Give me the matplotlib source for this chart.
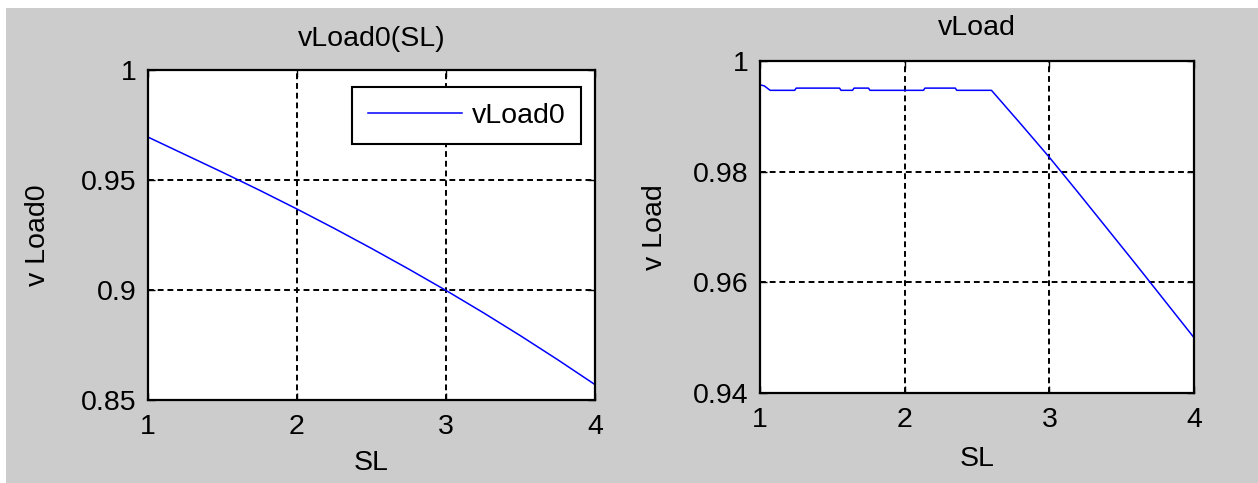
import matplotlib
matplotlib.use("Agg")
import matplotlib.pyplot as plt
from matplotlib.patches import Rectangle

# left plot: vLoad0 vs SL
sl0 = [1.0, 1.25, 1.5, 1.75, 2.0, 2.25, 2.5, 2.75, 3.0, 3.25, 3.5, 3.75, 4.0]
vload0 = [0.9695, 0.9615, 0.9535, 0.9453, 0.9368, 0.9280, 0.9189, 0.9095,
          0.8998, 0.8897, 0.8792, 0.8683, 0.857]

# right plot: vLoad vs SL (flat with small steps, then falling)
sl = [1.0, 1.03, 1.07, 1.24, 1.25, 1.55, 1.56, 1.64, 1.65, 1.75, 1.76,
      2.13, 2.14, 2.35, 2.36, 2.6, 2.8, 3.0, 3.2, 3.4, 3.6, 3.8, 4.0]
vload = [0.9957, 0.9955, 0.9947, 0.9947, 0.9951, 0.9951, 0.9947, 0.9947,
         0.9951, 0.9951, 0.9947, 0.9947, 0.9951, 0.9951, 0.9947, 0.9947,
         0.9887, 0.9826, 0.9762, 0.9697, 0.9632, 0.9566, 0.9500]

xticks = [1, 2, 3, 4]
yticks0 = [0.85, 0.9, 0.95, 1.0]
yticklabels0 = ["0.85", "0.9", "0.95", "1"]
yticks1 = [0.94, 0.96, 0.98, 1.0]
yticklabels1 = ["0.94", "0.96", "0.98", "1"]

plt.rcParams['font.family'] = ['Liberation Sans', 'DejaVu Sans']
FS = 20.5
W, H = 1258, 483

fig = plt.figure(figsize=(W / 100, H / 100), dpi=100, facecolor='white')
# grey window background with a thin white strip at top and left
fig.add_artist(Rectangle((6 / W, 0), 1, (H - 8) / H, transform=fig.transFigure,
                         facecolor='#cccccc', edgecolor='none', zorder=-10))


def style_axes(ax, yticks, ylabels, ylim):
    ax.set_facecolor('white')
    ax.set_xlim(1, 4)
    ax.set_ylim(*ylim)
    ax.set_xticks(xticks)
    ax.set_xticklabels([str(t) for t in xticks])
    ax.set_yticks(yticks)
    ax.set_yticklabels(ylabels)
    ax.tick_params(direction='in', length=5, width=1, labelsize=FS, pad=8,
                   top=True, right=True)
    ax.tick_params(axis='x', pad=10)
    for s in ax.spines.values():
        s.set_linewidth(1.6)
        s.set_color('black')
    ax.grid(True, color='black', linestyle=(0, (3, 2)), linewidth=1.4)
    ax.set_axisbelow(True)


ax1 = fig.add_axes([148 / W, (H - 400) / H, 447 / W, 330 / H])
style_axes(ax1, yticks0, yticklabels0, (0.85, 1.0))
ax1.plot(sl0, vload0, color='#0000ff', linewidth=1.1, label='vLoad0')
ax1.set_title('vLoad0(SL)', fontsize=FS, pad=17)
ax1.set_xlabel('SL', fontsize=FS)
ax1.set_ylabel('v Load0', fontsize=FS)
ax1.xaxis.set_label_coords(0.5, -0.15)
ax1.yaxis.set_label_coords(-0.218, 0.5)
leg = ax1.legend(loc='upper right', bbox_to_anchor=(0.9687, 0.9485),
                 borderaxespad=0, fontsize=FS, handlelength=3.3,
                 handletextpad=0.35, borderpad=0.55, fancybox=False,
                 framealpha=1)
leg.get_frame().set_edgecolor('black')
leg.get_frame().set_linewidth(1.5)

ax2 = fig.add_axes([760 / W, (H - 393) / H, 434 / W, 332 / H])
style_axes(ax2, yticks1, yticklabels1, (0.94, 1.0))
ax2.plot(sl, vload, color='#0000ff', linewidth=1.1)
ax2.set_title('vLoad', fontsize=FS, pad=19)
ax2.set_xlabel('SL', fontsize=FS)
ax2.set_ylabel('v Load', fontsize=FS)
ax2.xaxis.set_label_coords(0.5, -0.16)
ax2.yaxis.set_label_coords(-0.212, 0.5)

fig.savefig('out.png', dpi=100, facecolor=fig.get_facecolor())
